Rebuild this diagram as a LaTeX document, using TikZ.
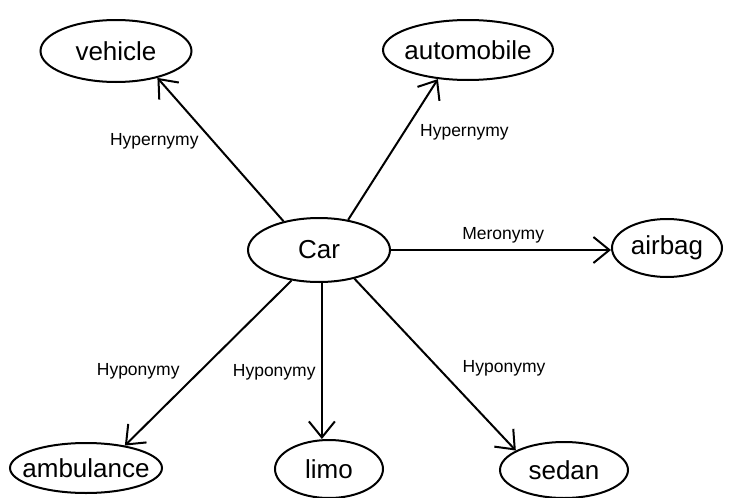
\documentclass[tikz,border=0pt]{standalone}
\usepackage{fontspec}
\setmainfont{Liberation Sans}
\usepackage{tikz}
\usetikzlibrary{scopes}
\usetikzlibrary{shapes.geometric}
\usetikzlibrary{arrows.meta}

\begin{document}
\begin{tikzpicture}[x=1pt,y=-1pt,
        word/.style 2 args={draw,ellipse,line width=2pt,inner sep=0pt,minimum width=#1pt,minimum height=#2pt},
        every label/.style={font=\fontsize{26}{30}\selectfont},
        rel/.style={-{Straight Barb[length=16pt,width=26pt,line width=2pt]},line width=2pt},
        lbl/.style={font=\fontsize{17.5}{20}\selectfont}]
        \useasboundingbox (0,0) rectangle (732,498);

        % the nodes
        \node[word={142}{64},label=center:Car] (car) at (319,250) {};
        \node[word={151}{62},label=center:vehicle] (vehicle) at (116,51) {};
        \node[word={170}{60},label=center:automobile] (automobile) at (468,50) {};
        \node[word={110}{58},label=center:airbag] (airbag) at (667,248) {};
        \node[word={152}{50},label=center:ambulance] (ambulance) at (86,468) {};
        \node[word={108}{58},label=center:limo] (limo) at (329,469) {};
        \node[word={128}{56},label=center:sedan] (sedan) at (564,470) {};

        {[rel]
            \draw (car.141) -- (vehicle.-33) node[lbl,pos=0.56,left=10pt] {Hypernymy};
            \draw (car.46) -- (automobile.-136) node[lbl,pos=0.62,right=12pt] {Hypernymy};
            \draw (car.east) -- (car.east -| airbag.west) node[lbl,pos=0.51,above=3pt] {Meronymy};
            \draw (car.-132) -- (ambulance.30) node[lbl,pos=0.55,left=16pt] {Hyponymy};
            \draw (car.-85) -- (car.-85 |- limo.north) node[lbl,pos=0.57,left=2pt] {Hyponymy};
            \draw (car.-39) -- (sedan.158) node[lbl,pos=0.52,right=20pt] {Hyponymy};
        }
\end{tikzpicture}
\end{document}
